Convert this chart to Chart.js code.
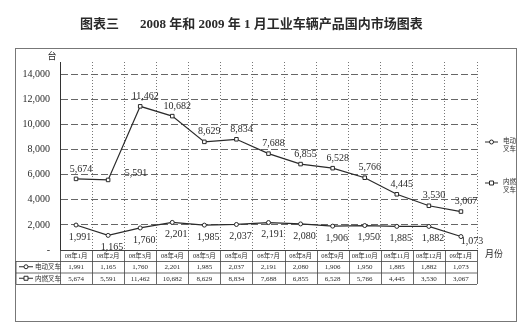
<!DOCTYPE html>
<html>
<head>
<meta charset="utf-8">
<script src="https://cdn.jsdelivr.net/npm/chart.js@4.4.1/dist/chart.umd.min.js"></script>
<style>
html, body { margin: 0; padding: 0; background: #fff; }
#wrap { width: 528px; height: 330px; position: relative; }
</style>
</head>
<body>
<div id="wrap"><canvas id="chart"></canvas></div>
<script>
// data
const months = ['08年1月','08年2月','08年3月','08年4月','08年5月','08年6月','08年7月','08年8月','08年9月','08年10月','08年11月','08年12月','09年1月'];
const electric = [1991,1165,1760,2201,1985,2037,2191,2080,1906,1950,1885,1882,1073];
const engine = [5674,5591,11462,10682,8629,8834,7688,6855,6528,5766,4445,3530,3067];
const yTicks = [0,2000,4000,6000,8000,10000,12000,14000];
const seriesNames = ['电动叉车','内燃叉车'];

const SERIF = "'Liberation Serif', 'Noto Sans CJK SC', serif";
const CJK = "'Noto Sans CJK SC', sans-serif";
const INK = '#2a2a2a';

function fmt(v) {
	return v.toLocaleString('en-US');
}

function marker(ctx, kind, x, y) {
	ctx.save();
	ctx.fillStyle = '#fff';
	ctx.strokeStyle = INK;
	ctx.lineWidth = 1;
	ctx.beginPath();
	if (kind == 'circle') {
		ctx.arc(x, y, 2, 0, Math.PI * 2);
	} else {
		ctx.rect(x - 2, y - 2, 4, 4);
	}
	ctx.fill();
	ctx.stroke();
	ctx.restore();
}

function legendLine(ctx, kind, x1, x2, y) {
	ctx.save();
	ctx.strokeStyle = INK;
	ctx.lineWidth = 1;
	ctx.beginPath();
	ctx.moveTo(x1, y);
	ctx.lineTo(x2, y);
	ctx.stroke();
	ctx.restore();
	marker(ctx, kind, (x1 + x2) / 2, y);
}

const decor = {
	id: 'decor',
	beforeDraw(chart) {
		const ctx = chart.ctx;
		ctx.save();
		ctx.fillStyle = '#fff';
		ctx.fillRect(0, 0, chart.width, chart.height);
		// outer frame
		ctx.strokeStyle = '#777';
		ctx.lineWidth = 1;
		ctx.strokeRect(15.5, 48.5, 501, 273);
		ctx.restore();
	},
	afterDatasetsDraw(chart) {
		const ctx = chart.ctx;
		ctx.save();
		ctx.fillStyle = INK;
		ctx.font = '10px ' + SERIF;
		ctx.textAlign = 'center';
		ctx.textBaseline = 'middle';
		// 内燃叉车 labels above, 电动叉车 labels below
		chart.getDatasetMeta(1).data.forEach((p, i) => {
			let dx = 5, dy = -10;
			if (i == 1) { dx = 28; dy = -7; }
			ctx.fillText(fmt(engine[i]), p.x + dx, p.y + dy);
		});
		chart.getDatasetMeta(0).data.forEach((p, i) => {
			let dx = 4, dy = 12;
			if (i == 12) { dx = 11; dy = 5; }
			ctx.fillText(fmt(electric[i]), p.x + dx, p.y + dy);
		});
		ctx.restore();
	},
	afterDraw(chart) {
		const ctx = chart.ctx;
		const area = chart.chartArea;
		const xs = chart.scales.x;
		const colW = (area.right - area.left) / months.length;

		ctx.save();
		ctx.fillStyle = INK;
		ctx.textBaseline = 'middle';

		// title
		ctx.font = 'bold 13px ' + SERIF;
		ctx.textAlign = 'left';
		ctx.fillText('图表三', 80, 25);
		ctx.fillText('2008 年和 2009 年 1 月工业车辆产品国内市场图表', 140, 25);

		// unit
		ctx.font = '9px ' + CJK;
		ctx.textAlign = 'center';
		ctx.fillText('台', 52, 56);

		// data table under the axis
		const top = area.bottom, r1 = top + 11, r2 = r1 + 11.5, r3 = r2 + 11.5;
		ctx.strokeStyle = '#444';
		ctx.lineWidth = 0.8;
		ctx.beginPath();
		ctx.moveTo(area.left, top + 0.5); ctx.lineTo(area.right, top + 0.5);
		ctx.moveTo(16, r1 + 0.5); ctx.lineTo(area.right, r1 + 0.5);
		ctx.moveTo(16, r2 + 0.5); ctx.lineTo(area.right, r2 + 0.5);
		ctx.moveTo(16, r3 + 0.5); ctx.lineTo(area.right, r3 + 0.5);
		ctx.moveTo(16, r1); ctx.lineTo(16, r3);
		for (let i = 0; i <= months.length; i++) {
			const x = Math.round(area.left + i * colW) + 0.5;
			ctx.moveTo(x, top); ctx.lineTo(x, r3);
		}
		ctx.stroke();

		ctx.font = '7px ' + SERIF;
		months.forEach((m, i) => {
			const x = xs.getPixelForValue(i);
			ctx.fillText(fmt(electric[i]), x, (r1 + r2) / 2 + 0.5);
			ctx.fillText(fmt(engine[i]), x, (r2 + r3) / 2 + 0.5);
		});

		// row legends
		ctx.textAlign = 'left';
		ctx.font = '6.5px ' + CJK;
		legendLine(ctx, 'circle', 19, 33, (r1 + r2) / 2);
		ctx.fillText(seriesNames[0], 35, (r1 + r2) / 2);
		legendLine(ctx, 'rect', 19, 33, (r2 + r3) / 2);
		ctx.fillText(seriesNames[1], 35, (r2 + r3) / 2);

		// right legend
		legendLine(ctx, 'circle', 485, 498, 142);
		ctx.fillText(seriesNames[0].slice(0, 2), 503, 141);
		ctx.fillText(seriesNames[0].slice(2), 503, 149);
		legendLine(ctx, 'rect', 485, 498, 183);
		ctx.fillText(seriesNames[1].slice(0, 2), 503, 182);
		ctx.fillText(seriesNames[1].slice(2), 503, 190);

		ctx.font = '9px ' + CJK;
		ctx.fillText('月份', 485, 254);
		ctx.restore();
	}
};

const ctx = document.getElementById('chart');
new Chart(ctx, {
	type: 'line',
	data: {
		labels: months,
		datasets: [{
			label: seriesNames[0],
			data: electric,
			borderColor: INK,
			borderWidth: 1.2,
			backgroundColor: '#fff',
			pointStyle: 'circle',
			pointRadius: 2,
			pointBorderWidth: 1,
			tension: 0
		}, {
			label: seriesNames[1],
			data: engine,
			borderColor: INK,
			borderWidth: 1.2,
			backgroundColor: '#fff',
			pointStyle: 'rect',
			pointRadius: 2.5,
			pointBorderWidth: 1,
			tension: 0
		}]
	},
	options: {
		responsive: true,
		maintainAspectRatio: false,
		animation: false,
		devicePixelRatio: 1,
		layout: { padding: { left: 0, top: 62, right: 51, bottom: 69 } },
		plugins: {
			legend: { display: false },
			title: { display: false },
			tooltip: { enabled: false }
		},
		scales: {
			x: {
				offset: true,
				grid: {
					offset: true,
					drawTicks: false,
					color: (c) => c.index >= months.length ? 'rgba(0,0,0,0)' : '#777',
					lineWidth: 1
				},
				border: { color: '#444', width: 1, dash: [1, 2] },
				ticks: {
					color: INK,
					font: { size: 6.5, family: SERIF },
					padding: 2,
					maxRotation: 0,
					autoSkip: false
				},
				afterFit(scale) { scale.height = 11; }
			},
			y: {
				min: 0,
				max: 15000,
				afterBuildTicks(scale) {
					scale.ticks = yTicks.map(v => ({ value: v }));
				},
				grid: {
					drawTicks: false,
					color: (c) => c.tick && c.tick.value == 0 ? 'rgba(0,0,0,0)' : '#666',
					lineWidth: 1
				},
				border: { color: '#333', width: 1, dash: [7, 3] },
				ticks: {
					color: INK,
					font: { size: 10, family: SERIF },
					padding: 10,
					callback: (v) => v == 0 ? '-' : fmt(v)
				},
				afterFit(scale) { scale.width = 60; }
			}
		}
	},
	plugins: [decor]
});
</script>
</body>
</html>
